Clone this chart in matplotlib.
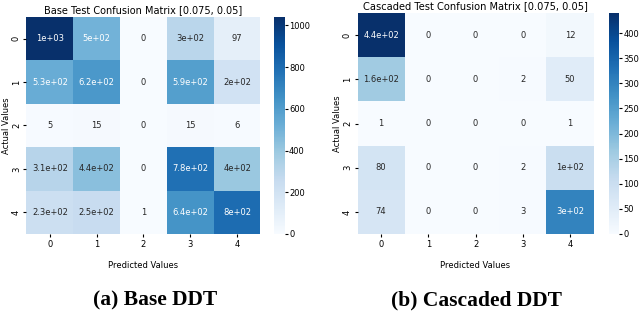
import numpy as np
import matplotlib
matplotlib.use('Agg')
import matplotlib.pyplot as plt
import seaborn as sns

labels = [0, 1, 2, 3, 4]

base_cm = [
    [1040, 500, 0, 300, 97],
    [530, 620, 0, 590, 200],
    [5, 15, 0, 15, 6],
    [310, 440, 0, 780, 400],
    [230, 250, 1, 640, 800],
]

cascaded_cm = [
    [440, 0, 0, 0, 12],
    [160, 0, 0, 2, 50],
    [1, 0, 0, 0, 1],
    [80, 0, 0, 2, 100],
    [74, 0, 0, 3, 300],
]

plt.rcParams['font.family'] = ['DejaVu Sans']

fig = plt.figure(figsize=(6.4, 3.16), dpi=100)

ax1 = fig.add_axes([0.0414, 0.2595, 0.3656, 0.6867])
cax1 = fig.add_axes([0.428, 0.2595, 0.0172, 0.6867])
ax2 = fig.add_axes([0.5586, 0.2595, 0.3688, 0.699])
cax2 = fig.add_axes([0.9516, 0.2595, 0.0156, 0.699])


def draw(ax, cax, cm, title, tsize):
    sns.heatmap(np.array(cm), annot=True, cmap='Blues', ax=ax, cbar_ax=cax,
                xticklabels=labels, yticklabels=labels,
                annot_kws={'size': 6})
    ax.set_title(title, fontsize=tsize, pad=3)
    ax.set_xlabel('Predicted Values', fontsize=6, labelpad=9)
    ax.set_ylabel('Actual Values', fontsize=6, labelpad=1)
    ax.tick_params(labelsize=6, length=2, pad=2)
    plt.setp(ax.get_yticklabels(), rotation=90, va='center')
    cax.tick_params(labelsize=6, length=2, pad=1)


draw(ax1, cax1, base_cm, 'Base Test Confusion Matrix [0.075, 0.05]', 7.0)
draw(ax2, cax2, cascaded_cm, 'Cascaded Test Confusion Matrix [0.075, 0.05]', 7.1)

fig.text(0.243, 0.032, '(a) Base DDT', ha='center', va='baseline',
         fontsize=15.5, fontweight='bold', family='Liberation Serif')
fig.text(0.745, 0.032, '(b) Cascaded DDT', ha='center', va='baseline',
         fontsize=15.5, fontweight='bold', family='Liberation Serif')

fig.savefig('out.png', dpi=100)
